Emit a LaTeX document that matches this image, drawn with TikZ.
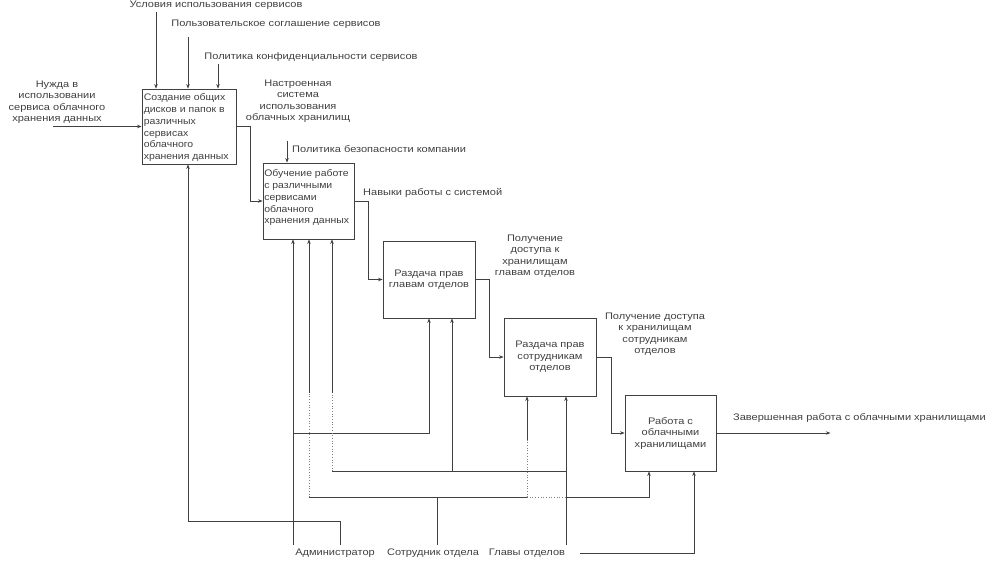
\documentclass[tikz,border=0pt]{standalone}
\usepackage{fontspec}
\setmainfont{Liberation Sans}
\newfontfamily\widefont[FakeStretch=1.16]{Liberation Sans}
\newfontfamily\midfont[FakeStretch=1.1]{Liberation Sans}
\usetikzlibrary{arrows.meta}
\begin{document}
\begin{tikzpicture}[x=1pt,y=-1pt,
  line/.style={draw=black!75, line width=0.7pt},
  arr/.style={line, -{Stealth[length=4.5pt,width=3.5pt]}},
  dotl/.style={draw=black!50, line width=0.7pt, dotted},
  box/.style={draw=black!75, line width=0.8pt, inner sep=0pt},
  txt/.style={font=\widefont\fontsize{9.5}{11.5}\selectfont, text=black!75, inner sep=0pt, align=center},
  ltxt/.style={font=\midfont\fontsize{9.5}{11.8}\selectfont, text=black!75, inner sep=0pt, align=left}]
\useasboundingbox (0,0) rectangle (995,561);

% boxes
\node[box, minimum width=94pt, minimum height=75pt] (b1) at (189,126.5) {};
\node[box, minimum width=91pt, minimum height=76pt] (b2) at (308.5,201) {};
\node[box, minimum width=92pt, minimum height=77pt, txt] (b3) at (429,279.5) {Раздача прав\\главам отделов};
\node[box, minimum width=92pt, minimum height=78pt, txt] (b4) at (550,357) {Раздача прав\\сотрудникам\\отделов};
\node[box, minimum width=91pt, minimum height=76pt, txt] (b5) at (670.5,433) {Работа с\\облачными\\хранилищами};
\node[ltxt, anchor=north west] (b1t) at ([xshift=2pt,yshift=-5pt]b1.north west) {Создание общих\\дисков и папок в\\различных\\сервисах\\облачного\\хранения данных};
\node[ltxt, anchor=north west] (b2t) at ([xshift=1.5pt,yshift=-7pt]b2.north west) {Обучение работе\\с различными\\сервисами\\облачного\\хранения данных};

% labels
\node[txt] (c1) at (216,5) {Условия использования сервисов};
\node[txt] (c2) at (276,24) {Пользовательское соглашение сервисов};
\node[txt] (c3) at (311,57) {Политика конфиденциальности сервисов};
\node[txt] (inl) at (57,102) {Нужда в\\использовании\\сервиса облачного\\хранения данных};
\node[txt] (o1) at (298,101) {Настроенная\\система\\использования\\облачных хранилищ};
\node[txt, anchor=west] (p2) at (292,149) {Политика безопасности компании};
\node[txt, anchor=west] (o2) at (363,193) {Навыки работы с системой};
\node[txt] (o3) at (535,256) {Получение\\доступа к\\хранилищам\\главам отделов};
\node[txt] (o4) at (655,334) {Получение доступа\\к хранилищам\\сотрудникам\\отделов};
\node[txt, anchor=west] (o5) at (733,418) {Завершенная работа с облачными хранилищами};
\node[txt] (adm) at (335,553) {Администратор};
\node[txt] (sot) at (433,553) {Сотрудник отдела};
\node[txt] (gl) at (527,553) {Главы отделов};

% controls of b1
\coordinate (k1) at (156,12);
\coordinate (k2) at (188,37);
\coordinate (k3) at (218,64);
\draw[arr] (k1) -- (k1 |- b1.north);
\draw[arr] (k2) -- (k2 |- b1.north);
\draw[arr] (k3) -- (k3 |- b1.north);
% input
\coordinate (inp) at (53,126.5);
\draw[arr] (inp) -- (b1.west);
% control of b2
\coordinate (k4) at (287,141);
\draw[arr] (k4) -- (k4 |- b2.north);

% outputs
\draw[arr] (b1.east) -- ++(14,0) |- (b2.west);
\draw[arr] (b2.east) -- ++(14,0) |- (b3.west);
\draw[arr] (b3.east) -- ++(14,0) |- (b4.west);
\draw[arr] (b4.east) -- ++(15,0) |- (b5.west);
\draw[arr] (b5.east) -- ++(114,0);

% Администратор
\coordinate (adm1) at (293,545);
\coordinate (adm2) at (340,545);
\coordinate (ja) at (293,433);
\coordinate (jb) at (340,521);
\draw[arr] (adm1) -- (adm1 |- b2.south);
\draw[arr] (ja) -| (b3.south);
\draw[arr] (adm2) -- (jb) -| ([xshift=-1pt]b1.south);

% Сотрудник отдела
\coordinate (sot1) at (437,545);
\coordinate (js) at (437,497);
\coordinate (s1) at (309,497);
\coordinate (s1u) at (309,393);
\coordinate (s2) at (527,497);
\coordinate (s2u) at (527,440);
\coordinate (s3) at (567,497);
\coordinate (s4) at (649,497);
\draw[line] (sot1) -- (js);
\draw[line] (s1) -- (s2);
\draw[dotl] (s2) -- (s3);
\draw[arr] (s3) -- (s4) -- (s4 |- b5.south);
\draw[dotl] (s1) -- (s1u);
\draw[arr] (s1u) -- (s1u |- b2.south);
\draw[dotl] (s2) -- (s2u);
\draw[arr] (s2u) -- (s2u |- b4.south);

% Главы отделов
\coordinate (gl1) at (566,545);
\coordinate (jg) at (566,471);
\coordinate (g1) at (332,471);
\coordinate (g1u) at (332,393);
\coordinate (g2) at (452,471);
\coordinate (gl2) at (580,553);
\coordinate (g3) at (694,553);
\draw[arr] (gl1) -- (gl1 |- b4.south);
\draw[line] (jg) -- (g1);
\draw[dotl] (g1) -- (g1u);
\draw[arr] (g1u) -- (g1u |- b2.south);
\draw[arr] (g2) -- (g2 |- b3.south);
\draw[arr] (gl2) -- (g3) -- (g3 |- b5.south);
\end{tikzpicture}
\end{document}
